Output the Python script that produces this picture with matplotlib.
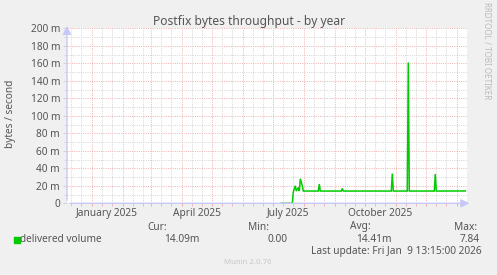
import matplotlib
matplotlib.use("Agg")
import matplotlib.pyplot as plt
import matplotlib.dates as mdates
import numpy as np
from datetime import datetime, timedelta

# ---- data (values in milli-bytes/second) ----
dates = ["2025-07-09", "2025-07-20", "2025-07-21", "2025-07-23", "2025-07-24",
         "2025-07-26", "2025-07-27", "2025-07-28", "2025-07-30", "2025-07-31",
         "2025-08-15", "2025-08-16", "2025-08-17",
         "2025-09-07", "2025-09-08", "2025-09-09",
         "2025-10-27", "2025-10-28", "2025-10-29",
         "2025-11-12", "2025-11-13", "2025-11-14",
         "2025-12-09", "2025-12-10", "2025-12-11",
         "2026-01-09"]
values = [0, 0, 13, 20, 14,
          18, 14, 28, 20, 14,
          14, 22, 14,
          14, 17, 14,
          14, 34, 14,
          14, 161, 14,
          14, 33.5, 14,
          14.09]
y_ticks = [0, 20, 40, 60, 80, 100, 120, 140, 160, 180, 200]
y_tick_labels = ["0", "20 m", "40 m", "60 m", "80 m", "100 m", "120 m",
                 "140 m", "160 m", "180 m", "200 m"]
x_label_dates = ["2025-01-16", "2025-04-16", "2025-07-16", "2025-10-16"]
x_label_texts = ["January 2025", "April 2025", "July 2025", "October 2025"]
legend_name = "delivered volume"
stat_heads = ["Cur:", "Min:", "Avg:", "Max:"]
stat_vals = ["14.09m", "0.00", "14.41m", "7.84"]

FONT = "Noto Sans"
BG = "#F0F0F0"
TXT = "#555555"
GREEN = "#00CC00"
RED_GRID = "#F2B0B0"
GREY_GRID = "#D4D4D4"

fig = plt.figure(figsize=(4.97, 2.75), dpi=100, facecolor=BG)
W, H = 497.0, 275.0
ax = fig.add_axes([67 / W, 1 - 203.3 / H, 400 / W, 175 / H])
ax.set_facecolor("white")

t = [datetime.strptime(d, "%Y-%m-%d") for d in dates]
ax.plot(t, values, color=GREEN, lw=1.1, zorder=5, solid_joinstyle="miter")

jan1 = datetime(2025, 1, 1)
ax.set_xlim(jan1 - timedelta(days=25.3), jan1 + timedelta(days=374.7))
ax.set_ylim(0, 200)

# grids
ax.xaxis.set_major_locator(mdates.MonthLocator())
ax.xaxis.set_minor_locator(mdates.DayLocator(bymonthday=[11, 21]))
ax.set_yticks(y_ticks)
ax.set_yticks(np.arange(10, 200, 20), minor=True)
ax.set_yticklabels(y_tick_labels, fontsize=7.3, color=TXT, family=FONT)
ax.set_xticklabels([])
ax.grid(which="minor", color=GREY_GRID, lw=0.7, ls=(0, (1, 1.3)))
ax.grid(which="major", color=RED_GRID, lw=0.7, ls=(0, (1, 1.3)))
ax.tick_params(axis="y", which="major", length=3, color=GREY_GRID, pad=2)
ax.tick_params(axis="y", which="minor", length=2, color=GREY_GRID)
ax.tick_params(axis="x", which="both", length=2, color=RED_GRID, pad=1)
ax.set_axisbelow(True)
for s in ax.spines.values():
    s.set_visible(False)

# axis lines with arrows
ax.annotate("", xy=(1.013, 0), xytext=(0, 0), xycoords="axes fraction",
            arrowprops=dict(arrowstyle="-|>,head_length=0.5,head_width=0.25",
                            color="#C8C8F8", lw=1.0), zorder=6)
ax.annotate("", xy=(0, 1.03), xytext=(0, 0), xycoords="axes fraction",
            arrowprops=dict(arrowstyle="-|>,head_length=0.5,head_width=0.25",
                            color="#C8C8F8", lw=1.0), zorder=6)

# x labels at mid-month
for d, lab in zip(x_label_dates, x_label_texts):
    ax.text(datetime.strptime(d, "%Y-%m-%d"), -5, lab, ha="center", va="top",
            fontsize=7.3, color=TXT, family=FONT, clip_on=False)

# title and labels
fig.text(249 / W, 1 - 21.5 / H, "Postfix bytes throughput - by year",
         ha="center", va="center", fontsize=8.7, color=TXT, family=FONT)
fig.text(11 / W, 1 - 114 / H, "bytes / second", rotation=90,
         ha="center", va="center", fontsize=7.3, color=TXT, family=FONT)
fig.text(487 / W, 1 - 51 / H, "RRDTOOL / TOBI OETIKER", rotation=270,
         ha="center", va="center", fontsize=5.8, color="#BBBBBB", family=FONT)

# legend
head_x = [167, 269, 371, 477]
val_x = [199, 287, 392, 480]
for hx, h in zip(head_x, stat_heads):
    fig.text(hx / W, 1 - 227 / H, h, ha="right", va="center",
             fontsize=7.3, color=TXT, family=FONT)
for vx, v in zip(val_x, stat_vals):
    fig.text(vx / W, 1 - 239.5 / H, v, ha="right", va="center",
             fontsize=7.3, color=TXT, family=FONT)
fig.patches.append(plt.Rectangle((14 / W, 1 - 242.5 / H), 5.5 / W, 5.5 / H,
                                 transform=fig.transFigure, color=GREEN))
fig.text(20.5 / W, 1 - 239.5 / H, legend_name, ha="left", va="center",
         fontsize=7.3, color=TXT, family=FONT)
fig.text(482 / W, 1 - 251.5 / H, "Last update: Fri Jan  9 13:15:00 2026",
         ha="right", va="center", fontsize=7.3, color=TXT, family=FONT)
fig.text(248 / W, 1 - 262.5 / H, "Munin 2.0.76", ha="center", va="center",
         fontsize=5.6, color="#C8C8C8", family=FONT)

fig.savefig("out.png", dpi=100, facecolor=BG)
